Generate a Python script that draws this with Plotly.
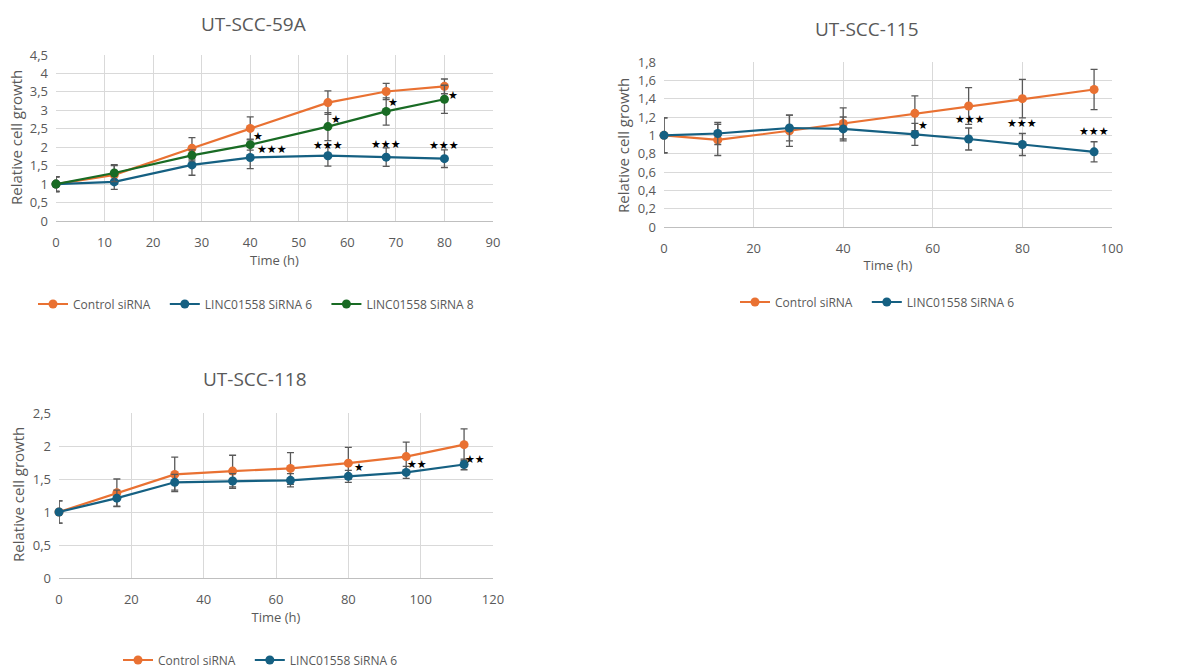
import plotly.graph_objects as go

# ---------------- data ----------------
t59 = [0, 12, 28, 40, 56, 68, 80]
ctrl59 = [1.0, 1.25, 1.97, 2.51, 3.21, 3.51, 3.65]
ctrl59_err = [0.2, 0.25, 0.29, 0.31, 0.32, 0.22, 0.2]
si6_59 = [1.0, 1.06, 1.52, 1.72, 1.77, 1.73, 1.69]
si6_59_err = [0.2, 0.2, 0.28, 0.3, 0.28, 0.25, 0.24]
si8_59 = [1.0, 1.3, 1.78, 2.07, 2.56, 2.97, 3.3]
si8_59_err = [0.2, 0.23, 0.15, 0.15, 0.38, 0.37, 0.38]

t115 = [0, 12, 28, 40, 56, 68, 80, 96]
ctrl115 = [1.0, 0.95, 1.05, 1.13, 1.24, 1.32, 1.40, 1.50]
ctrl115_err = [0.19, 0.17, 0.17, 0.17, 0.19, 0.2, 0.21, 0.22]
si6_115 = [1.0, 1.02, 1.08, 1.07, 1.01, 0.96, 0.90, 0.82]
si6_115_err = [0.19, 0.12, 0.14, 0.13, 0.12, 0.12, 0.12, 0.11]

t118 = [0, 16, 32, 48, 64, 80, 96, 112]
ctrl118 = [1.0, 1.29, 1.57, 1.62, 1.66, 1.74, 1.84, 2.02]
ctrl118_err = [0.17, 0.21, 0.26, 0.24, 0.24, 0.24, 0.22, 0.24]
si6_118 = [1.0, 1.21, 1.45, 1.47, 1.48, 1.54, 1.60, 1.72]
si6_118_err = [0.17, 0.12, 0.12, 0.11, 0.1, 0.09, 0.09, 0.08]

# significance marks (x, y, text)
sig59_x = [41.5, 44.5, 57.6, 56, 69.5, 68, 81.8, 80]
sig59_y = [2.3, 1.93, 2.75, 2.04, 3.2, 2.07, 3.4, 2.04]
sig59_t = ["*", "***", "*", "***", "*", "***", "*", "***"]

sig115_x = [57.8, 68.2, 79.9, 95.9]
sig115_y = [1.11, 1.17, 1.13, 1.04]
sig115_t = ["*", "***", "***", "***"]

sig118_x = [83, 99, 114.9]
sig118_y = [1.675, 1.72, 1.8]
sig118_t = ["*", "**", "**"]

names = ["Control siRNA", "LINC01558 SiRNA 6", "LINC01558 SiRNA 8"]
colors = ["#E97132", "#156082", "#196B24"]

# ---------------- figure ----------------
W, H = 1180, 668
FONT = "Open Sans"
GREY = "#595959"
PAD = "\u00a0\u00a0\u00a0"  # small extra gap between legend entries

fig = go.Figure()


def px_x(p):
    return p / W


def px_y(p):
    return 1 - p / H


def add_series(x, y, e, idx, xa, ya, leg):
    fig.add_trace(go.Scatter(
        x=x, y=y, name=names[idx] + PAD, mode="lines+markers",
        line=dict(color=colors[idx], width=2.2),
        marker=dict(color=colors[idx], size=9),
        error_y=dict(type="data", array=e, color=GREY, thickness=1.3, width=3.5),
        xaxis=xa, yaxis=ya, legend=leg, cliponaxis=False,
    ))


add_series(t59, ctrl59, ctrl59_err, 0, "x", "y", "legend")
add_series(t59, si6_59, si6_59_err, 1, "x", "y", "legend")
add_series(t59, si8_59, si8_59_err, 2, "x", "y", "legend")

add_series(t115, ctrl115, ctrl115_err, 0, "x2", "y2", "legend2")
add_series(t115, si6_115, si6_115_err, 1, "x2", "y2", "legend2")

add_series(t118, ctrl118, ctrl118_err, 0, "x3", "y3", "legend3")
add_series(t118, si6_118, si6_118_err, 1, "x3", "y3", "legend3")


def star(t):
    return t.replace("*", "★")


for xs, ys, ts, xr, yr in [(sig59_x, sig59_y, sig59_t, "x", "y"),
                            (sig115_x, sig115_y, sig115_t, "x2", "y2"),
                            (sig118_x, sig118_y, sig118_t, "x3", "y3")]:
    for xv, yv, tv in zip(xs, ys, ts):
        fig.add_annotation(x=xv, y=yv, xref=xr, yref=yr, text=star(tv),
                           showarrow=False, font=dict(size=11, color="black",
                                                      family="DejaVu Sans"))

grid = "#D9D9D9"


def xaxis(dom, rng, dtick, anchor):
    return dict(domain=dom, range=rng, dtick=dtick, tick0=0, anchor=anchor,
                showgrid=True, gridcolor=grid, gridwidth=1,
                showline=True, linecolor="#BFBFBF", linewidth=1.2,
                zeroline=False, ticks="", mirror=False, ticklabelstandoff=9,
                tickfont=dict(size=13, color=GREY, family=FONT),
                title=dict(text="Time (h)", font=dict(size=13, color=GREY, family=FONT),
                           standoff=5))


def yaxis(dom, rng, vals, anchor):
    return dict(domain=dom, range=rng, tickvals=vals,
                ticktext=[("%g" % v).replace(".", ",") for v in vals],
                anchor=anchor, showgrid=True, gridcolor=grid, gridwidth=1,
                showline=False, zeroline=False, ticks="", ticklabelstandoff=7,
                tickfont=dict(size=13, color=GREY, family=FONT))


y59_ticks = [0, 0.5, 1, 1.5, 2, 2.5, 3, 3.5, 4, 4.5]
y115_ticks = [0, 0.2, 0.4, 0.6, 0.8, 1, 1.2, 1.4, 1.6, 1.8]
y118_ticks = [0, 0.5, 1, 1.5, 2, 2.5]

fig.update_layout(
    width=W, height=H, margin=dict(l=0, r=0, t=0, b=0, autoexpand=False),
    paper_bgcolor="white", plot_bgcolor="white",
    font=dict(family=FONT, color=GREY),
    xaxis=xaxis([px_x(56), px_x(493)], [0, 90], 10, "y"),
    yaxis=yaxis([px_y(221), px_y(55)], [0, 4.5], y59_ticks, "x"),
    xaxis2=xaxis([px_x(664), px_x(1112)], [0, 100], 20, "y2"),
    yaxis2=yaxis([px_y(227), px_y(62)], [0, 1.8], y115_ticks, "x2"),
    xaxis3=xaxis([px_x(59), px_x(493)], [0, 120], 20, "y3"),
    yaxis3=yaxis([px_y(578), px_y(413)], [0, 2.5], y118_ticks, "x3"),
    showlegend=True,
)

leg_common = dict(orientation="h", xanchor="left", yanchor="middle",
                  font=dict(size=12, color=GREY, family=FONT),
                  bgcolor="rgba(0,0,0,0)", itemwidth=30, tracegroupgap=0)
fig.update_layout(
    legend=dict(x=px_x(33), y=px_y(304), **leg_common),
    legend2=dict(x=px_x(735), y=px_y(302), **leg_common),
    legend3=dict(x=px_x(118), y=px_y(660), **leg_common),
)

# titles
for txt, cx, cy in [("UT-SCC-59A", 253, 24), ("UT-SCC-115", 867, 29), ("UT-SCC-118", 255, 379)]:
    fig.add_annotation(x=px_x(cx), y=px_y(cy), xref="paper", yref="paper",
                       text=txt, showarrow=False, xanchor="center", yanchor="middle",
                       font=dict(size=19, color=GREY, family=FONT))

# y-axis titles
for cx, cy in [(16, 138), (623, 145), (18, 495)]:
    fig.add_annotation(x=px_x(cx), y=px_y(cy), xref="paper", yref="paper",
                       text="Relative cell growth", textangle=-90, showarrow=False,
                       xanchor="center", yanchor="middle",
                       font=dict(size=15, color=GREY, family=FONT))

fig.write_html("out.html")
